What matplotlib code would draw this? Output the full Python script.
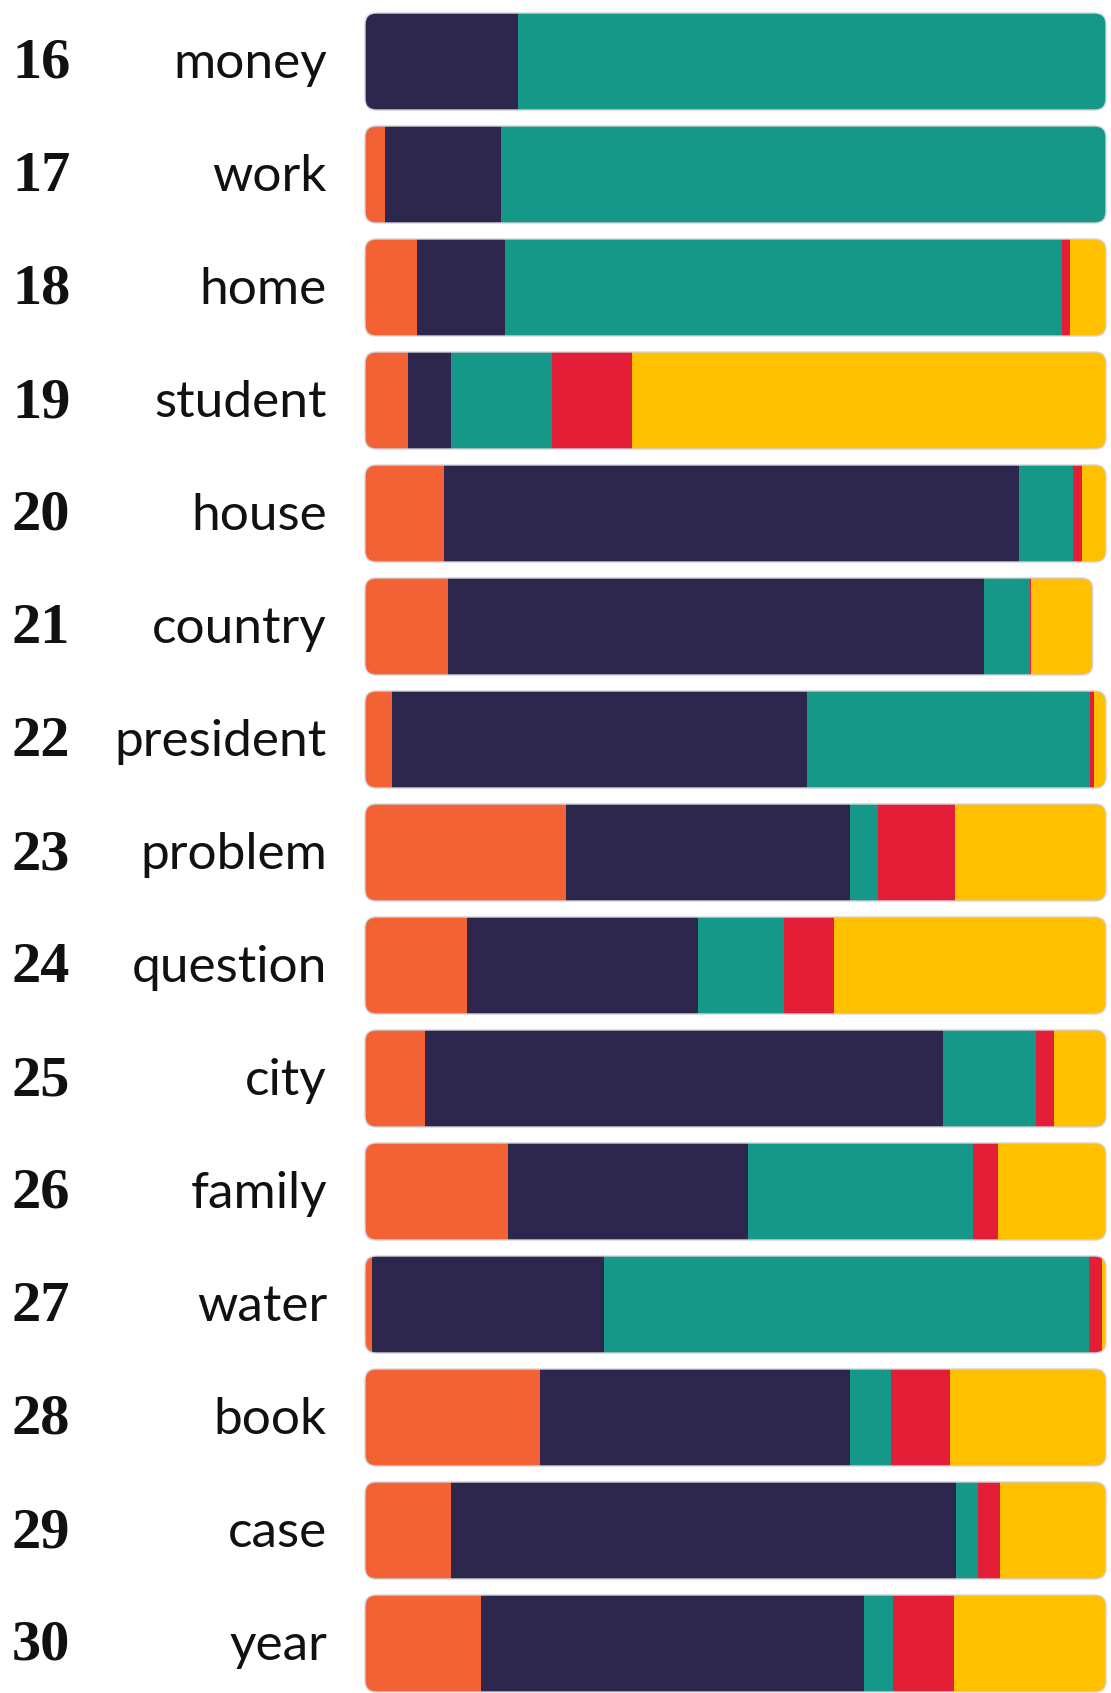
###### Stacked share bars, words ranked 16 to 30 ########

# Importing the libraries
import numpy as np
import matplotlib
matplotlib.use('Agg')
import matplotlib.pyplot as plt
from matplotlib.patches import FancyBboxPatch

# Data (share of each bar, left to right)
ranks = [16, 17, 18, 19, 20, 21, 22, 23, 24, 25, 26, 27, 28, 29, 30]
words = ['money', 'work', 'home', 'student', 'house', 'country', 'president',
         'problem', 'question', 'city', 'family', 'water', 'book', 'case', 'year']

orange = [0.000, 0.027, 0.070, 0.058, 0.107, 0.112, 0.036, 0.271, 0.138, 0.081, 0.193, 0.010, 0.236, 0.116, 0.157]
navy   = [0.206, 0.157, 0.119, 0.058, 0.775, 0.723, 0.561, 0.384, 0.312, 0.699, 0.324, 0.313, 0.419, 0.682, 0.517]
teal   = [0.794, 0.816, 0.752, 0.137, 0.073, 0.063, 0.382, 0.037, 0.116, 0.125, 0.303, 0.654, 0.055, 0.029, 0.038]
red    = [0.000, 0.000, 0.010, 0.107, 0.012, 0.001, 0.005, 0.104, 0.067, 0.025, 0.034, 0.018, 0.080, 0.030, 0.083]
yellow = [0.000, 0.000, 0.049, 0.640, 0.033, 0.083, 0.016, 0.204, 0.367, 0.070, 0.146, 0.005, 0.210, 0.143, 0.205]

series = [orange, navy, teal, red, yellow]
colors = ['#F26235', '#2E274D', '#159887', '#E41E36', '#FFC000']

# Figure in pixels: 1111 x 1693
W, H = 1111, 1693
fig = plt.figure(figsize=(W / 100, H / 100), dpi=100)
ax = fig.add_axes([0, 0, 1, 1])

# x: 0..1 maps to the bar span (px 365 -> 1106), y: one unit per row
bar_left, bar_right = 365, 1106
px_x = bar_right - bar_left
row_px = 113.0
first_center = 61.5
ax.set_xlim(-bar_left / px_x, 1 + (W - bar_right) / px_x)
ax.set_ylim((H - first_center) / row_px, -first_center / row_px)
ax.axis('off')

y = np.arange(len(words))
bar_h = 97 / row_px
totals = np.sum(series, axis=0)

# Rounded outline of each row, used to clip the segments
radius = 11 / px_x
clips = []
for i in y:
    box = FancyBboxPatch((0, i - bar_h / 2), totals[i], bar_h,
                         boxstyle='round,pad=0,rounding_size=%f' % radius,
                         mutation_aspect=px_x / row_px,
                         facecolor='none', edgecolor='#d4d3dc', linewidth=1.0,
                         zorder=3)
    ax.add_patch(box)
    clips.append(box)

# Stacked segments
left = np.zeros(len(words))
for vals, c in zip(series, colors):
    bars = ax.barh(y, vals, left=left, height=bar_h, color=c, linewidth=0, zorder=2)
    for i, b in enumerate(bars):
        b.set_clip_path(clips[i])
    left = left + np.array(vals)

# Rank numbers and words
for i in y:
    ax.text(12 / px_x - bar_left / px_x, i + 16.5 / row_px, str(ranks[i]),
            ha='left', va='baseline', fontsize=42, fontweight='bold',
            family='Liberation Serif', color='#111111')
    ax.text(327 / px_x - bar_left / px_x, i + 16.5 / row_px, words[i],
            ha='right', va='baseline', fontsize=37,
            family='Lato', color='#111111')

plt.savefig('out.png', dpi=100)
